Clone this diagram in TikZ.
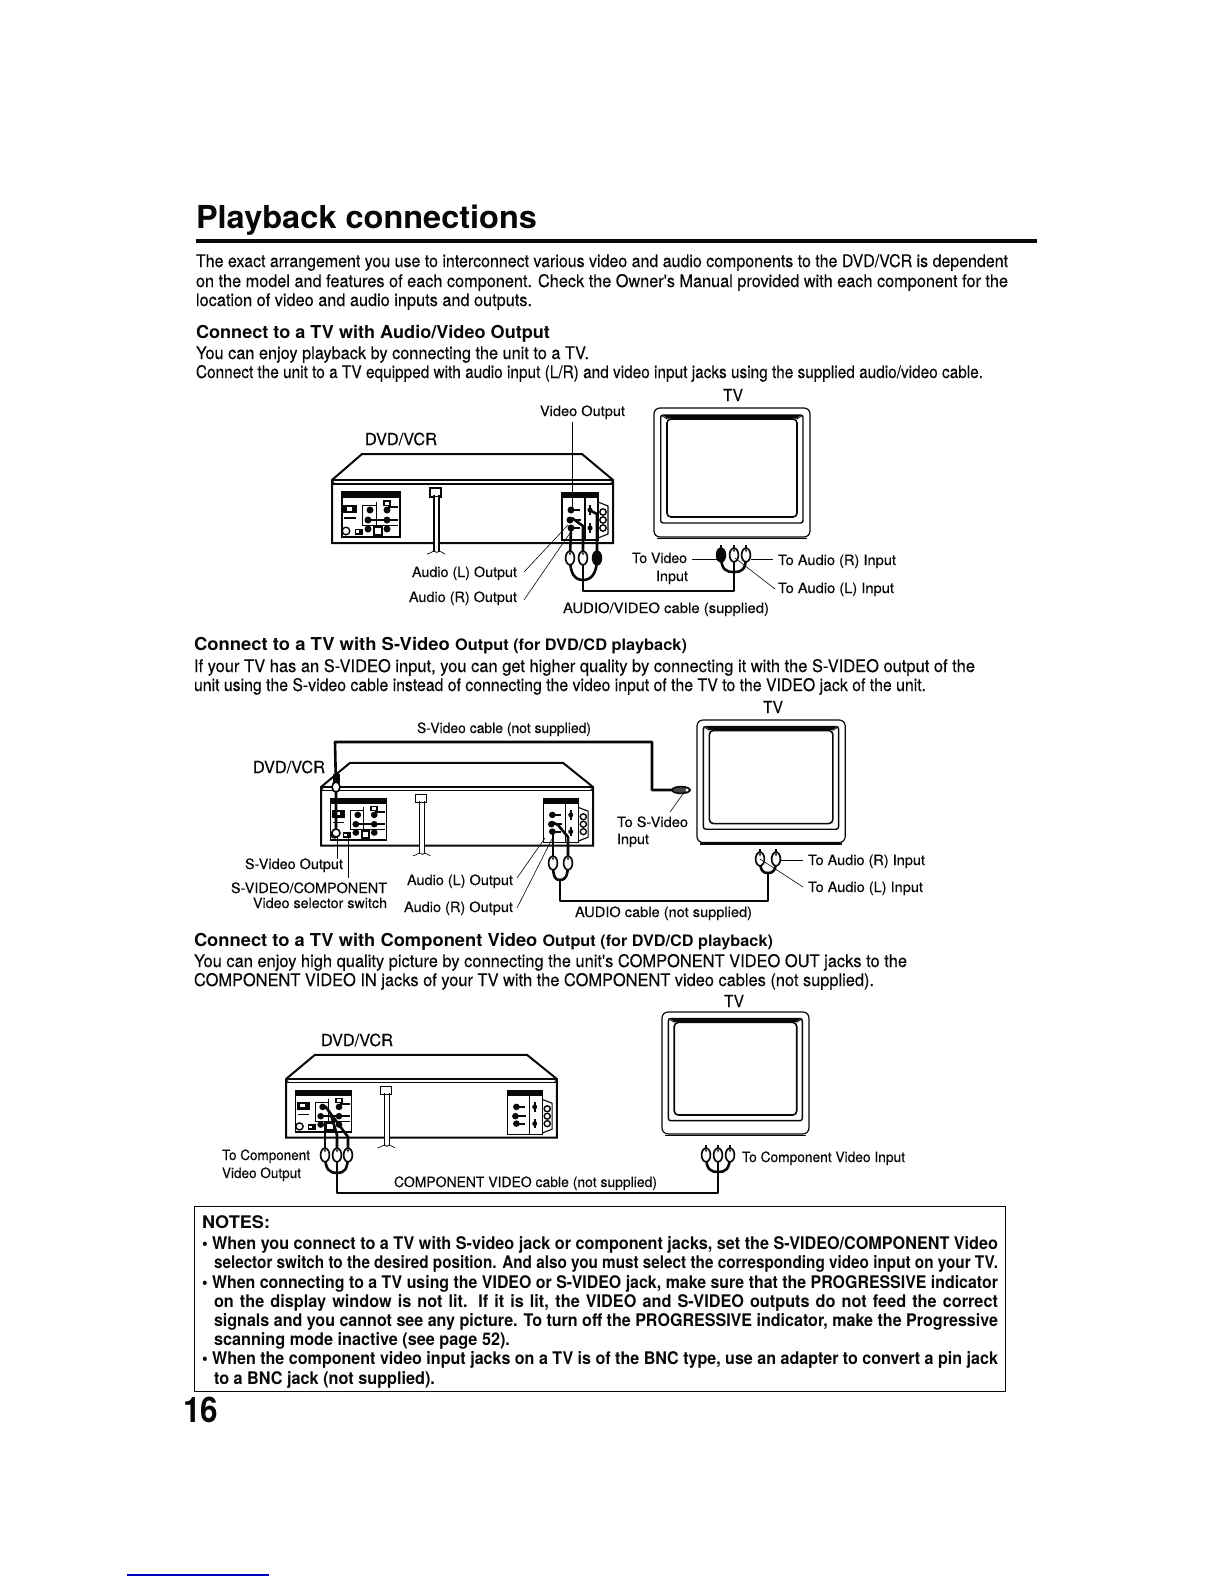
\documentclass[tikz,border=0pt]{standalone}
\usepackage{fontspec}
\usepackage{graphicx}
\setmainfont{TeX Gyre Heros}
\newfontface\heavyreg[FakeBold=0.22]{TeX Gyre Heros}
\usetikzlibrary{calc}
\definecolor{ink}{gray}{0.03}
\definecolor{scanblue}{rgb}{0,0,0.75}
\newdimen\pxu \pxu=0.5bp
\newdimen\pxw
% \tl[style]{name}{left}{baseline}{right}{text}
\newcommand\tl[6][lab]{%
  \pxw=\dimexpr #5\pxu-#3\pxu\relax
  \node[#1] (#2) at (#3,#4) {\resizebox{\pxw}{\height}{#6}};}
% same, with letters as narrow as the neighbours and wide word spaces
\newcommand\ts[6][note]{%
  \pxw=\dimexpr #5\pxu-#3\pxu\relax
  \node[#1] (#2) at (#3,#4) {\resizebox{\pxw}{\height}{\makebox[1.07\pxw][s]{#6}}};}
\newcommand\subhead[1]{{\fontsize{7.9bp}{10bp}\selectfont #1}}
\tikzset{
  x=0.5bp,y=-0.5bp,
  txtbase/.style={anchor=base west,inner sep=0pt,outer sep=0pt,text=ink},
  lab/.style={txtbase,font=\heavyreg\fontsize{7.1bp}{8bp}\selectfont},
  biglab/.style={txtbase,font=\heavyreg\fontsize{8.3bp}{9bp}\selectfont},
  body/.style={txtbase,font=\heavyreg\fontsize{8.7bp}{10bp}\selectfont},
  head/.style={txtbase,font=\fontsize{8.9bp}{10bp}\bfseries\selectfont},
  note/.style={txtbase,font=\fontsize{8.7bp}{10bp}\bfseries\selectfont},
  titlef/.style={txtbase,font=\fontsize{15.8bp}{18bp}\bfseries\selectfont},
  pagenum/.style={txtbase,font=\fontsize{17.6bp}{20bp}\bfseries\selectfont},
  cable/.style={draw=ink,line width=1.3bp,line join=round},
  lead/.style={draw=ink,line width=0.3bp},
  hair/.style={draw=ink,line width=0.35bp},
  med/.style={draw=ink,line width=0.55bp},
  heavy/.style={draw=ink,line width=1bp},
  rcaw/.pic={
    \fill[ink] (-1.4,-10) rectangle (1.4,-5);
    \draw[ink,line width=0.85bp,fill=white] (0,0) ellipse (4.4 and 6.8);
    \fill[ink] (-1.2,-5.5) -- (1.2,-5.5) -- (0,-2.5) -- cycle;
  },
  rcab/.pic={
    \fill[ink] (-1.4,-10) rectangle (1.4,-5);
    \draw[ink,line width=0.85bp,fill=ink] (0,0) ellipse (4.4 and 6.8);
  },
}
\newcommand\jack[3][3.5]{\fill[ink] (#2,#3) circle (#1);}
\newcommand\vcrunit[5]{%
\begin{scope}[shift={(#1,#2)},xscale=#3,yscale=#4]
  \filldraw[heavy,fill=white] (0,0) -- (30,-26) -- (250,-26) -- (281,0) -- (281,63) -- (0,63) -- cycle;
  \draw[heavy] (0,0) -- (281,0);
  \draw[med] (1,4) -- (280,4);
  \draw[hair] (0,0) -- (3,4) (281,0) -- (278,4);
  % left panel
  \draw[med] (10,12) rectangle (68,57);
  \fill[ink] (10,12) rectangle (68,18);
  \fill[ink] (11,25) rectangle (25,33);
  \fill[white] (15,27) rectangle (20,30.5);
  \draw[med] (12,38) -- (24,38);
  \draw[line width=0.7bp,draw=ink] (14,51) circle (3.8);
  \draw[hair,fill=ink] (23,49) rectangle (30,54);
  \fill[white] (24,50.3) rectangle (26.5,52.7);
  \draw[hair] (30,25) -- (30,45) -- (66,45) (44,22) -- (44,45) (30,25) -- (44,25);
  \jack{38}{30}\jack{36}{40}\jack{36}{49}\jack{55}{30}\jack{55}{40}\jack{55}{49}
  \fill[ink] (51,20) rectangle (59,26);
  \fill[white] (53,21.5) rectangle (57,24.5);
  \draw[line width=0.9bp,draw=ink] (56,27) -- (66,27) (39,40) -- (52,40) (58,40) -- (66,40);
  \fill[ink] (41,46) rectangle (51,56);
  \fill[white] (43,48) rectangle (49,54);
  % right panel
  \draw[med] (230,12) -- (230,60) -- (266,60) -- (266,12) (253,18) -- (253,60);
  \fill[ink] (230,12) rectangle (266,18);
  \jack{239}{30}\jack{238}{40}\jack{239}{48}
  \draw[line width=0.9bp,draw=ink] (239,30) -- (248,30) (239,40) -- (249,40) (239,48) -- (248,48);
  \jack[2.6]{258}{30}\jack[2.6]{258}{48}
  \draw[line width=0.9bp,draw=ink] (258,25) -- (258,35) (258,43) -- (258,53);
  \draw[med] (266,22) -- (276,26) -- (276,54) -- (266,58);
  \foreach \yy in {32,40,48} {\draw[line width=0.7bp,draw=ink,fill=white] (271,\yy) circle (3.2);}
  % power cord
  \filldraw[med,fill=white] (98,8) rectangle (109,17);
  \fill[white] (102,17) rectangle (107,72);
  \draw[med] (102,15) -- (102,72) (107,15) -- (107,72);
  \draw[hair] (95,74) .. controls (99,73) and (101,71) .. (102,71) .. controls (104,73) and (106,73) .. (107,71) .. controls (109,71) and (110,73) .. (113,74);
  #5
\end{scope}}
\newcommand\tvunit[4]{%
\begin{scope}[shift={(#1,#2)},xscale=#3,yscale=#4]
  \draw[line width=0.6bp,draw=ink,rounded corners=3bp] (0,0) rectangle (156,129);
  \draw[line width=0.7bp,draw=ink,rounded corners=1.2bp] (6.7,7) rectangle (149,115);
  \draw[line width=0.8bp,draw=ink,rounded corners=2bp] (13,11) rectangle (143,109);
  \fill[ink] (9,7) -- (147,7) -- (143,10.5) -- (13,10.5) -- cycle;
  \draw[hair] (6.7,7) -- (13,11) (149,7) -- (143,11);
  \draw[med] (3,130.5) -- (153,130.5);
\end{scope}}
\begin{document}
\begin{tikzpicture}
\useasboundingbox (0,0) rectangle (1224,1584);
\fill[white] (0,0) rectangle (1224,1584);
% ---- Title and intro
\tl[titlef]{title}{196}{228}{537}{Playback connections}
\fill[ink] (196,239) rectangle (1037,243);
\tl[body]{i1}{196}{267}{1008}{The exact arrangement you use to interconnect various video and audio components to the DVD/VCR is dependent}
\tl[body]{i2}{196}{287}{1008}{on the model and features of each component. Check the Owner's Manual provided with each component for the}
\tl[body]{i3}{196}{306}{532}{location of video and audio inputs and outputs.}
\tl[head]{h1}{196}{338}{550}{Connect to a TV with Audio/Video Output}
\tl[body]{a1}{196}{359}{589}{You can enjoy playback by connecting the unit to a TV.}
\tl[body]{a2}{196}{378}{983}{Connect the unit to a TV equipped with audio input (L/R) and video input jacks using the supplied audio/video cable.}
% ---- Diagram 1
\tl[biglab]{tv1l}{723}{401}{743}{TV}
\tl{vo}{540}{416}{625}{Video Output}
\tl[biglab]{dv1}{365}{445}{437}{DVD/VCR}
\vcrunit{332}{480}{1}{1}{}
\tvunit{654}{408}{1}{1}
\coordinate (vo1) at (572,422);
\coordinate (vo2) at (572,508);
\draw[lead] (vo1) -- (vo2);
\coordinate (A1) at (570,558);
\coordinate (A2) at (583,558);
\coordinate (A3) at (597,558);
\coordinate (AJ) at (583,580);
\coordinate (AS) at (583,591);
\coordinate (AE) at (734,591);
\coordinate (BJ) at (734,572);
\coordinate (B1) at (721,555);
\coordinate (B2) at (734,555);
\coordinate (B3) at (746,555);
\coordinate (Aj1) at (571,528);
\coordinate (Aj2) at (572,518);
\coordinate (Aj2b) at (583,526);
\coordinate (Aj3) at (591,511);
\coordinate (Aj3b) at (597,514);
\draw[cable] (A1) -- (Aj1);
\draw[cable] (A2) -- (Aj2b) -- (Aj2);
\draw[cable] (A3) -- (Aj3b) -- (Aj3);
\draw[cable] (A1) .. controls +(0,16) and +(-8,0) .. (AJ);
\draw[cable] (A3) .. controls +(0,16) and +(8,0) .. (AJ);
\draw[cable] (A2) -- (AS) -- (AE) -- (B2);
\draw[cable] (B1) .. controls +(0,15) and +(-8,0) .. (BJ);
\draw[cable] (B3) .. controls +(0,15) and +(8,0) .. (BJ);
\pic at (A1) {rcaw};
\pic at (A2) {rcaw};
\pic at (A3) {rcab};
\pic at (B1) {rcab};
\pic at (B2) {rcaw};
\pic at (B3) {rcaw};
\tl{al1}{412}{577}{517}{Audio (L) Output}
\tl{ar1}{409}{602}{517}{Audio (R) Output}
\coordinate (al1a) at (524,572);
\coordinate (al1b) at (568,525);
\coordinate (ar1a) at (524,600);
\coordinate (ar1b) at (570,533);
\draw[lead] (al1a) -- (al1b);
\draw[lead] (ar1a) -- (ar1b);
\tl{tv1a}{632}{563}{687}{To Video}
\tl{tv1b}{656}{581}{688}{Input}
\tl{tr1}{778}{565}{896}{To Audio (R) Input}
\tl{tlb1}{778}{593}{894}{To Audio (L) Input}
\tl{cab1}{563}{613}{769}{AUDIO/VIDEO cable (supplied)}
\coordinate (tv1d) at (692,559);
\coordinate (tv1e) at (717,559);
\draw[lead] (tv1d) -- (tv1e);
\coordinate (tr1d) at (773,559);
\coordinate (tr1e) at (751,559);
\draw[lead] (tr1d) -- (tr1e);
\coordinate (tl1d) at (775,589);
\coordinate (tl1e) at (735,558);
\draw[lead] (tl1d) -- (tl1e);
% ---- Section 2 text
\tl[head]{h2}{194}{650}{687}{Connect to a TV with S-Video \subhead{Output (for DVD/CD playback)}}
\tl[body]{b1}{194}{672}{975}{If your TV has an S-VIDEO input, you can get higher quality by connecting it with the S-VIDEO output of the}
\tl[body]{b2}{194}{691}{926}{unit using the S-video cable instead of connecting the video input of the TV to the VIDEO jack of the unit.}
% ---- Diagram 2
\tl[biglab]{tv2l}{763}{713}{783}{TV}
\tl{svc}{417}{733}{591}{S-Video cable (not supplied)}
\tl[biglab]{dv2}{253}{773}{325}{DVD/VCR}
\vcrunit{321}{787}{0.968}{0.93}{}
\tvunit{697}{720}{0.95}{0.95}
\coordinate (S1) at (336,787);
\coordinate (S0) at (335,742);
\coordinate (S2) at (652,742);
\coordinate (S3) at (652,790);
\coordinate (S4) at (690,790);
\coordinate (Sjk) at (336,833);
\draw[cable] (Sjk) -- (S1) -- (S0) -- (S2) -- (S3) -- (S4);
\fill[ink] (332.5,774) rectangle (339.5,783);
\draw[ink,line width=0.85bp,fill=white] (S1) ellipse (4 and 5);
\draw[ink,line width=0.8bp,fill=white] (Sjk) circle (4);
\draw[ink,line width=0.8bp,fill=ink!75] (681,790) ellipse (9 and 3.4);
\fill[white] (687,790) circle (1.6);
\tl{tosv}{617}{827}{688}{To S-Video}
\tl{tosv2}{617}{844}{649}{Input}
\coordinate (sv1) at (670,812);
\coordinate (sv2) at (683,794);
\draw[lead] (sv1) -- (sv2);
\tl{svo}{245}{869}{343}{S-Video Output}
\tl{svc1}{231}{893}{387}{S-VIDEO/COMPONENT}
\tl{svc2}{253}{908}{387}{Video selector switch}
\coordinate (so1) at (337,837);
\coordinate (so2) at (337,859);
\coordinate (ss1) at (348,837);
\coordinate (ss2) at (348,878);
\draw[lead] (so1) -- (so2);
\draw[lead] (ss1) -- (ss2);
\tl{al2}{407}{885}{513}{Audio (L) Output}
\tl{ar2}{404}{912}{513}{Audio (R) Output}
\coordinate (al2a) at (517,878);
\coordinate (al2b) at (545,838);
\coordinate (ar2a) at (517,908);
\coordinate (ar2b) at (553,837);
\draw[lead] (al2a) -- (al2b);
\draw[lead] (ar2a) -- (ar2b);
\coordinate (C1) at (553,863);
\coordinate (C2) at (568,863);
\coordinate (CJ) at (560,880);
\coordinate (CS) at (560,901);
\coordinate (CE) at (768,901);
\coordinate (DJ) at (768,873);
\coordinate (D1) at (760,859);
\coordinate (D2) at (776,859);
\coordinate (Cj1) at (553,833);
\coordinate (Cj2) at (552,822);
\coordinate (Cj2a) at (568,837);
\coordinate (Cj2b) at (558,825);
\draw[cable] (C1) -- (Cj1);
\draw[cable] (C2) -- (Cj2a) -- (Cj2b) -- (Cj2);
\draw[cable] (C1) .. controls +(0,14) and +(-5,0) .. (CJ);
\draw[cable] (C2) .. controls +(0,14) and +(5,0) .. (CJ);
\draw[cable] (CJ) -- (CS) -- (CE) -- (DJ);
\draw[cable] (D1) .. controls +(0,12) and +(-5,0) .. (DJ);
\draw[cable] (D2) .. controls +(0,12) and +(5,0) .. (DJ);
\pic at (C1) {rcaw};
\pic at (C2) {rcaw};
\pic at (D1) {rcaw};
\pic at (D2) {rcaw};
\tl{tr2}{808}{865}{925}{To Audio (R) Input}
\tl{tl2}{808}{892}{923}{To Audio (L) Input}
\tl{cab2}{575}{917}{752}{AUDIO cable (not supplied)}
\coordinate (tr2d) at (803,860);
\coordinate (tr2e) at (781,860);
\draw[lead] (tr2d) -- (tr2e);
\coordinate (tl2d) at (803,887);
\draw[lead] (tl2d) -- (D1);
% ---- Section 3 text
\tl[head]{h3}{194}{946}{773}{Connect to a TV with Component Video \subhead{Output (for DVD/CD playback)}}
\tl[body]{c1}{194}{967}{907}{You can enjoy high quality picture by connecting the unit's COMPONENT VIDEO OUT jacks to the}
\tl[body]{c2}{194}{986}{874}{COMPONENT VIDEO IN jacks of your TV with the COMPONENT video cables (not supplied).}
% ---- Diagram 3
\tl[biglab]{tv3l}{724}{1007}{744}{TV}
\tl[biglab]{dv3}{321}{1046}{393}{DVD/VCR}
\vcrunit{286}{1079}{0.964}{0.93}{}
\tvunit{662}{1012}{0.942}{0.945}
\coordinate (E1) at (325,1155);
\coordinate (E2) at (337,1155);
\coordinate (E3) at (348,1155);
\coordinate (EJ) at (337,1173);
\coordinate (ES) at (337,1193);
\coordinate (EE) at (718,1193);
\coordinate (FJ) at (718,1172);
\coordinate (F1) at (706,1155);
\coordinate (F2) at (718,1155);
\coordinate (F3) at (730,1155);
\coordinate (Ej1) at (325,1122);
\coordinate (Ej2) at (331,1115);
\coordinate (Ej2m) at (337,1135);
\coordinate (Ej3) at (325,1106);
\coordinate (Ej3m) at (348,1137);
\draw[cable] (E1) -- (Ej1);
\draw[cable] (E2) -- (Ej2m) -- (Ej2);
\draw[cable] (E3) -- (Ej3m) -- (Ej3);
\draw[cable] (E1) .. controls +(0,15) and +(-7,0) .. (EJ);
\draw[cable] (E3) .. controls +(0,15) and +(7,0) .. (EJ);
\draw[cable] (E2) -- (ES) -- (EE) -- (F2);
\draw[cable] (F1) .. controls +(0,15) and +(-7,0) .. (FJ);
\draw[cable] (F3) .. controls +(0,15) and +(7,0) .. (FJ);
\pic at (E1) {rcaw};
\pic at (E2) {rcaw};
\pic at (E3) {rcaw};
\pic at (F1) {rcaw};
\pic at (F2) {rcaw};
\pic at (F3) {rcaw};
\tl{tc1}{222}{1160}{310}{To Component}
\tl{tc2}{222}{1178}{301}{Video Output}
\tl{cab3}{394}{1187}{657}{COMPONENT VIDEO cable (not supplied)}
\tl{tc3}{742}{1162}{905}{To Component Video Input}
% ---- Notes
\draw[ink,line width=0.45bp] (194,1206) rectangle (1005,1391);
\tl[note]{n0}{202}{1228}{270}{NOTES:}
\tl[note]{n1}{202}{1249}{998}{• When you connect to a TV with S-video jack or component jacks, set the S-VIDEO/COMPONENT Video}
\tl[note]{n2}{214}{1268}{998}{selector switch to the desired position. And also you must select the corresponding video input on your TV.}
\tl[note]{n3}{202}{1288}{998}{• When connecting to a TV using the VIDEO or S-VIDEO jack, make sure that the PROGRESSIVE indicator}
\ts[note]{n4}{214}{1307}{998}{on the display window is not lit. If it is lit, the VIDEO and S-VIDEO outputs do not feed the correct}
\tl[note]{n5}{214}{1326}{998}{signals and you cannot see any picture. To turn off the PROGRESSIVE indicator, make the Progressive}
\tl[note]{n6}{214}{1345}{510}{scanning mode inactive (see page 52).}
\tl[note]{n7}{202}{1364}{998}{• When the component video input jacks on a TV is of the BNC type, use an adapter to convert a pin jack}
\tl[note]{n8}{214}{1384}{435}{to a BNC jack (not supplied).}
\tl[pagenum]{pg}{183}{1422}{218}{16}
\draw[scanblue,line width=0.75bp] (127,1575) -- (269,1575);
\end{tikzpicture}
\end{document}
